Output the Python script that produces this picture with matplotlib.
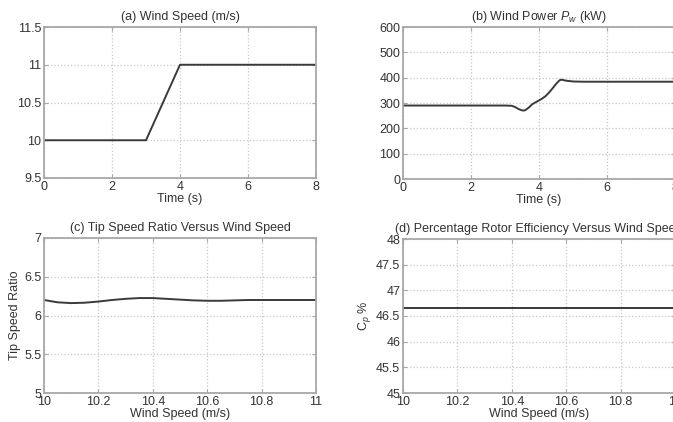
import matplotlib
matplotlib.use("Agg")
import matplotlib.pyplot as plt

plt.rcParams['font.family'] = ['Liberation Sans', 'DejaVu Sans']
plt.rcParams['mathtext.fontset'] = 'custom'
plt.rcParams['mathtext.it'] = 'Liberation Sans:italic'
plt.rcParams['mathtext.rm'] = 'Liberation Sans'

# (a) wind speed profile
t_ws = [0, 3, 4, 8]
wind_speed = [10, 10, 11, 11]

# (b) wind power
t_pw = [0, 1, 2, 3, 3.2, 3.3, 3.4, 3.5, 3.55, 3.6, 3.7, 3.8, 3.9, 4.0, 4.1,
        4.2, 4.3, 4.4, 4.5, 4.6, 4.65, 4.7, 4.8, 5.0, 5.3, 5.6, 6, 7, 8]
wind_power = [290, 290, 290, 290, 289, 284, 276, 271, 270, 272, 282, 295, 303, 310, 318,
              328, 342, 358, 375, 389, 392, 391, 388, 385, 384, 384, 384, 384, 384]

# (c) tip speed ratio vs wind speed
ws_c = [10.0, 10.05, 10.1, 10.15, 10.2, 10.25, 10.3, 10.35, 10.4, 10.45, 10.5,
        10.55, 10.6, 10.65, 10.7, 10.75, 10.8, 10.9, 11.0]
tsr = [6.20, 6.17, 6.16, 6.165, 6.18, 6.20, 6.215, 6.225, 6.225, 6.215, 6.205,
       6.195, 6.19, 6.19, 6.195, 6.20, 6.20, 6.20, 6.20]

# (d) rotor efficiency vs wind speed
ws_d = [10.0, 11.0]
cp_pct = [46.65, 46.65]

line_col = '#3a3a3a'
spine_col = '#a8a8a8'
grid_col = '#c8c8c8'
text_col = '#333333'
fs = 9

fig = plt.figure(figsize=(6.73, 4.22), dpi=100)
W, H = 673.0, 422.0

def make_ax(x0, y0, x1, y1):
    ax = fig.add_axes([x0 / W, 1 - y1 / H, (x1 - x0) / W, (y1 - y0) / H])
    for s in ax.spines.values():
        s.set_color(spine_col)
        s.set_linewidth(1.3)
    ax.tick_params(direction='in', length=3, width=0.8, color=spine_col,
                   labelsize=fs, labelcolor=text_col, pad=2, top=True, right=True)
    ax.grid(True, linestyle=':', color=grid_col, linewidth=0.9)
    return ax

# (a)
ax = make_ax(44, 27, 316, 178)
ax.plot(t_ws, wind_speed, color=line_col, lw=1.4)
ax.set_xlim(0, 8)
ax.set_ylim(9.5, 11.5)
ax.set_xticks([0, 2, 4, 6, 8])
ax.set_yticks([9.5, 10, 10.5, 11, 11.5])
ax.set_yticklabels(['9.5', '10', '10.5', '11', '11.5'])
ax.set_title('(a) Wind Speed (m/s)', fontsize=fs, color=text_col, pad=5)
ax.set_xlabel('Time (s)', fontsize=fs, color=text_col, labelpad=0)

# (b)
ax = make_ax(403, 27, 675, 179)
ax.plot(t_pw, wind_power, color=line_col, lw=1.4)
ax.set_xlim(0, 8)
ax.set_ylim(0, 600)
ax.set_xticks([0, 2, 4, 6, 8])
ax.set_yticks([0, 100, 200, 300, 400, 500, 600])
ax.set_title('(b) Wind Power $P_w$ (kW)', fontsize=fs, color=text_col, pad=5)
ax.set_xlabel('Time (s)', fontsize=fs, color=text_col, labelpad=0)

# (c)
ax = make_ax(44, 238, 316, 393)
ax.plot(ws_c, tsr, color=line_col, lw=1.4)
ax.set_xlim(10, 11)
ax.set_ylim(5, 7)
ax.set_xticks([10, 10.2, 10.4, 10.6, 10.8, 11])
ax.set_xticklabels(['10', '10.2', '10.4', '10.6', '10.8', '11'])
ax.set_yticks([5, 5.5, 6, 6.5, 7])
ax.set_yticklabels(['5', '5.5', '6', '6.5', '7'])
ax.set_title('(c) Tip Speed Ratio Versus Wind Speed', fontsize=fs, color=text_col, pad=5)
ax.set_xlabel('Wind Speed (m/s)', fontsize=fs, color=text_col, labelpad=0)
ax.set_ylabel('Tip Speed Ratio', fontsize=fs, color=text_col, labelpad=2)

# (d)
ax = make_ax(403, 239, 675, 393)
ax.plot(ws_d, cp_pct, color=line_col, lw=1.4)
ax.set_xlim(10, 11)
ax.set_ylim(45, 48)
ax.set_xticks([10, 10.2, 10.4, 10.6, 10.8, 11])
ax.set_xticklabels(['10', '10.2', '10.4', '10.6', '10.8', '11'])
ax.set_yticks([45, 45.5, 46, 46.5, 47, 47.5, 48])
ax.set_yticklabels(['45', '45.5', '46', '46.5', '47', '47.5', '48'])
ax.set_title('(d) Percentage Rotor Efficiency Versus Wind Speed', fontsize=fs,
             color=text_col, pad=5)
ax.set_xlabel('Wind Speed (m/s)', fontsize=fs, color=text_col, labelpad=0)
ax.set_ylabel('C$_p$ %', fontsize=fs, color=text_col, labelpad=2)

fig.savefig('out.png', dpi=100)
